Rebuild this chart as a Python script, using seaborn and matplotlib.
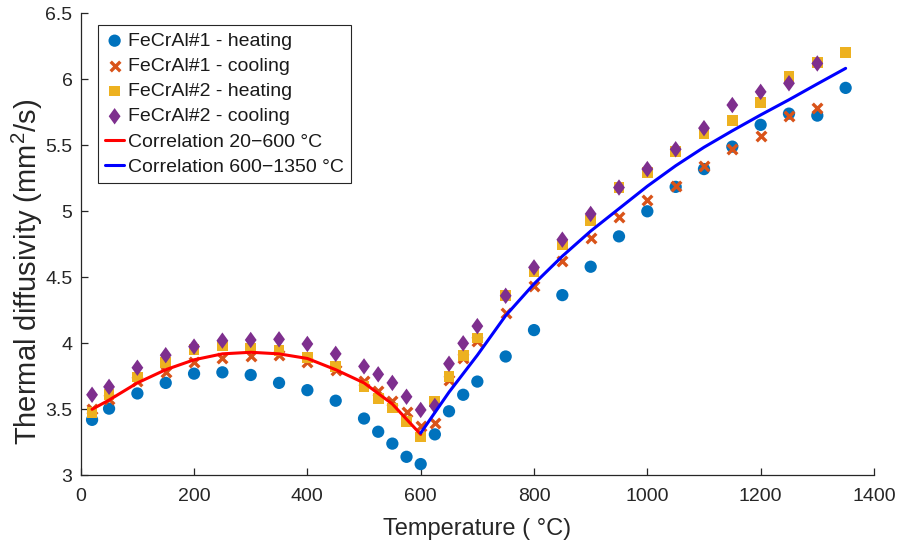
import matplotlib
matplotlib.use("Agg")
import matplotlib.pyplot as plt
from matplotlib.path import Path
import seaborn as sns

# Measurement temperatures (°C)
temp_heating = [20, 50, 100, 150, 200, 250, 300, 350, 400, 450, 500, 525, 550, 575,
                600, 625, 650, 675, 700, 750, 800, 850, 900, 950, 1000, 1050, 1100,
                1150, 1200, 1250, 1300, 1350]
temp_cooling = [20, 50, 100, 150, 200, 250, 300, 350, 400, 450, 500, 525, 550, 575,
                600, 625, 650, 675, 700, 750, 800, 850, 900, 950, 1000, 1050, 1100,
                1150, 1200, 1250, 1300]

# Thermal diffusivity (mm^2/s)
fecral1_heating = [3.42, 3.505, 3.62, 3.70, 3.77, 3.78, 3.76, 3.70, 3.645, 3.565, 3.43,
                   3.33, 3.24, 3.14, 3.085, 3.31, 3.485, 3.61, 3.71, 3.90, 4.10, 4.365,
                   4.58, 4.81, 5.00, 5.185, 5.32, 5.49, 5.655, 5.74, 5.725, 5.935]
fecral1_cooling = [3.50, 3.58, 3.715, 3.785, 3.86, 3.89, 3.905, 3.91, 3.86, 3.80, 3.715,
                   3.635, 3.565, 3.48, 3.37, 3.395, 3.72, 3.885, 4.015, 4.23, 4.435,
                   4.625, 4.80, 4.96, 5.085, 5.195, 5.345, 5.475, 5.57, 5.725, 5.785]
fecral2_heating = [3.475, 3.61, 3.745, 3.855, 3.955, 3.98, 3.965, 3.945, 3.89, 3.825,
                   3.67, 3.58, 3.51, 3.405, 3.29, 3.56, 3.75, 3.905, 4.04, 4.36, 4.54,
                   4.75, 4.93, 5.18, 5.295, 5.455, 5.585, 5.69, 5.825, 6.02, 6.13, 6.205]
fecral2_cooling = [3.61, 3.67, 3.815, 3.91, 3.975, 4.02, 4.025, 4.03, 3.995, 3.92, 3.825,
                   3.765, 3.70, 3.595, 3.495, 3.525, 3.845, 4.00, 4.13, 4.36, 4.575,
                   4.785, 4.98, 5.18, 5.32, 5.47, 5.63, 5.805, 5.905, 5.97, 6.12]

# Correlation curves
corr_low_t = [20, 50, 100, 150, 200, 250, 300, 350, 400, 450, 500, 550, 600]
corr_low = [3.50, 3.57, 3.70, 3.80, 3.875, 3.92, 3.932, 3.92, 3.885, 3.80, 3.70, 3.54, 3.31]
corr_high_t = [600, 650, 700, 750, 800, 850, 900, 950, 1000, 1050, 1100, 1150, 1200,
               1250, 1300, 1350]
corr_high = [3.32, 3.63, 3.91, 4.21, 4.45, 4.66, 4.85, 5.02, 5.19, 5.345, 5.485, 5.61,
             5.73, 5.845, 5.965, 6.083]

sns.set_style("ticks")
plt.rcParams["font.family"] = ["Liberation Sans", "DejaVu Sans"]
plt.rcParams["mathtext.fontset"] = "custom"
plt.rcParams["mathtext.rm"] = "Liberation Sans"
plt.rcParams["mathtext.it"] = "Liberation Sans:italic"

ink = "#262626"
diamond = Path([(0, 1), (0.72, 0), (0, -1), (-0.72, 0), (0, 1)],
               [Path.MOVETO, Path.LINETO, Path.LINETO, Path.LINETO, Path.CLOSEPOLY])

fig = plt.figure(figsize=(9.01, 5.45), dpi=100)
ax = fig.add_axes([0.0896, 0.1279, 0.8804, 0.8477])

sns.scatterplot(x=temp_heating, y=fecral1_heating, ax=ax, color="#0072BD", marker="o",
                s=78, edgecolor="none", label="FeCrAl#1 - heating")
sns.scatterplot(x=temp_cooling, y=fecral1_cooling, ax=ax, color="#D95319", marker="x",
                s=48, linewidths=2.4, label="FeCrAl#1 - cooling")
sns.scatterplot(x=temp_heating, y=fecral2_heating, ax=ax, color="#EDB120", marker="s",
                s=60, edgecolor="none", label="FeCrAl#2 - heating")
sns.scatterplot(x=temp_cooling, y=fecral2_cooling, ax=ax, color="#7E2F8E", marker=diamond,
                s=140, edgecolor="none", label="FeCrAl#2 - cooling")
sns.lineplot(x=corr_low_t, y=corr_low, ax=ax, color="red", linewidth=2.2, sort=False,
             label="Correlation 20\u2212600 \u00b0C")
sns.lineplot(x=corr_high_t, y=corr_high, ax=ax, color="blue", linewidth=2.2, sort=False,
             label="Correlation 600\u22121350 \u00b0C")

ax.set_xlim(0, 1400)
ax.set_ylim(3, 6.5)
ax.set_xticks([0, 200, 400, 600, 800, 1000, 1200, 1400])
ax.set_yticks([3, 3.5, 4, 4.5, 5, 5.5, 6, 6.5])
ax.set_yticklabels(["3", "3.5", "4", "4.5", "5", "5.5", "6", "6.5"])

sns.despine(ax=ax)
for side in ("left", "bottom"):
    ax.spines[side].set_color(ink)
    ax.spines[side].set_linewidth(0.9)
ax.tick_params(axis="both", direction="in", length=5, width=0.9, color=ink,
               labelcolor=ink, labelsize=14)
ax.tick_params(axis="x", pad=9)
ax.tick_params(axis="y", pad=6)

ax.set_xlabel("Temperature ( \u00b0C)", fontsize=17, color=ink, labelpad=9.7)
ax.set_ylabel("Thermal diffusivity (mm$^2$/s)", fontsize=21, color=ink)
ax.yaxis.set_label_coords(-0.045, 0.44)

leg = ax.legend(loc="upper left", bbox_to_anchor=(0.0214, 0.9747), borderaxespad=0,
                fontsize=14, frameon=True, fancybox=False, edgecolor=ink,
                handlelength=1.0, handletextpad=0.2, labelspacing=0.39,
                borderpad=0.37, framealpha=1)
leg.get_frame().set_linewidth(0.8)
for txt in leg.get_texts():
    txt.set_color("#1a1a1a")

fig.savefig("out.png", dpi=100)
